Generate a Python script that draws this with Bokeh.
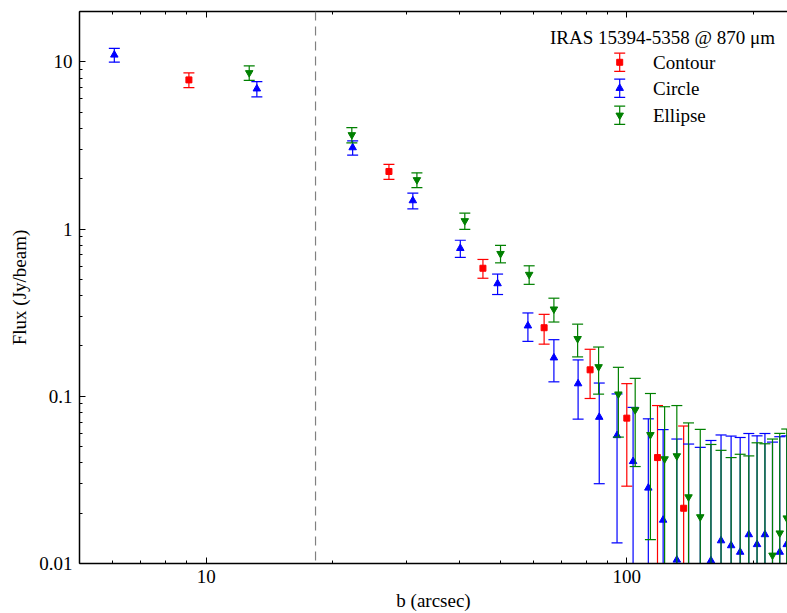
import numpy as np
from bokeh.plotting import figure
from bokeh.models import (LogAxis, FixedTicker, CustomJSTickFormatter, Span, Range1d,
                          LinearScale, Label)
from bokeh.embed import file_html
from bokeh.resources import INLINE

# ---------------- data ----------------
contour_b = [9.1, 27.2, 45.5, 63.6, 81.8, 100.0, 118.3, 136.5]
contour_flux = [7.8, 2.21, 0.583, 0.257, 0.144, 0.074, 0.043, 0.0214]
contour_err = [0.78, 0.23, 0.075, 0.052, 0.047, 0.045, 0.045, 0.045]

circle_b = [6.05, 13.2, 22.3, 31.0, 40.2, 49.3, 58.2, 67.1, 76.6, 86.0, 94.8, 103.5,
            112.5, 122.0, 131.5, 140.3, 149.5, 158.5, 167.5, 177.0, 186.0, 195.0,
            204.0, 213.0, 222.0, 231.0, 240.0]
circle_flux = [11.0, 6.9, 3.07, 1.48, 0.767, 0.472, 0.264, 0.170, 0.119, 0.075, 0.0583,
               0.0408, 0.0283, 0.0182, 0.0105, 0.0068, 0.0045, 0.0104, 0.0137, 0.0128,
               0.0117, 0.0149, 0.013, 0.0149, 0.0082, 0.0117, 0.013]
circle_err = [1.05, 0.72, 0.30, 0.16, 0.09, 0.066, 0.051, 0.048, 0.046, 0.045, 0.045,
              0.045, 0.045, 0.045, 0.045, 0.045, 0.045, 0.044, 0.045, 0.045, 0.045,
              0.045, 0.045, 0.045, 0.045, 0.0456, 0.045]

ellipse_b = [12.66, 22.2, 31.7, 41.2, 50.1, 58.6, 67.1, 76.4, 85.7, 95.5, 104.7, 113.8,
             123.0, 131.5, 140.2, 149.5, 158.5, 167.5, 177.0, 186.0, 195.0, 204.0,
             213.0, 222.0, 231.0, 240.0]
ellipse_flux = [8.6, 3.66, 1.97, 1.12, 0.713, 0.535, 0.332, 0.221, 0.150, 0.103, 0.083,
                0.0589, 0.0422, 0.044, 0.025, 0.019, 0.0065, 0.0025, -0.002, 0.0,
                -0.001, 0.0077, 0.007, 0.0112, 0.0152, 0.0187]
ellipse_err = [0.85, 0.38, 0.20, 0.125, 0.085, 0.068, 0.054, 0.049, 0.047, 0.046, 0.045,
               0.045, 0.0444, 0.044, 0.0443, 0.0444, 0.045, 0.045, 0.045, 0.045, 0.045,
               0.045, 0.045, 0.0443, 0.0448, 0.045]

beam_b = 18.2  # dashed vertical line position (arcsec)

x_major = [10, 100]
x_minor = [5, 6, 7, 8, 9, 20, 30, 40, 50, 60, 70, 80, 90, 200]
y_major = [0.01, 0.1, 1, 10]
y_minor = [0.02, 0.03, 0.04, 0.05, 0.06, 0.07, 0.08, 0.09,
           0.2, 0.3, 0.4, 0.5, 0.6, 0.7, 0.8, 0.9,
           2, 3, 4, 5, 6, 7, 8, 9, 20]

legend_title = "IRAS 15394-5358 @ 870 μm"
series = [
    ("Contour", contour_b, contour_flux, contour_err, "#ff0000", "square", 6),
    ("Circle", circle_b, circle_flux, circle_err, "#0000ff", "triangle", 7.5),
    ("Ellipse", ellipse_b, ellipse_flux, ellipse_err, "#008000", "inverted_triangle", 7.5),
]

FONT = "Liberation Serif"
FS = "19px"

p = figure(width=787, height=613, x_axis_type="log", y_axis_type="log",
           x_range=(5.0, 241.0), y_range=(0.01, 20.0),
           output_backend="svg", toolbar_location=None,
           min_border_left=79, min_border_right=0, min_border_top=11, min_border_bottom=48)
p.outline_line_color = None
p.grid.visible = False
p.background_fill_color = "white"
p.border_fill_color = "white"

xt = FixedTicker(ticks=x_major, minor_ticks=x_minor)
yt = FixedTicker(ticks=y_major, minor_ticks=y_minor)
fmt = CustomJSTickFormatter(code="return tick.toString()")

def style_axis(ax, ticker):
    ax.ticker = ticker
    ax.axis_line_color = "black"
    ax.axis_line_width = 1.5
    ax.major_tick_in = 6
    ax.major_tick_out = 0
    ax.minor_tick_in = 3
    ax.minor_tick_out = 0
    ax.major_tick_line_color = "black"
    ax.minor_tick_line_color = "black"
    ax.major_label_text_font = FONT
    ax.major_label_text_font_size = FS
    ax.major_label_text_color = "black"
    ax.axis_label_text_font = FONT
    ax.axis_label_text_font_size = FS
    ax.axis_label_text_font_style = "normal"
    ax.axis_label_text_color = "black"

style_axis(p.xaxis[0], xt)
style_axis(p.yaxis[0], yt)
p.xaxis[0].formatter = fmt
p.yaxis[0].formatter = fmt
p.xaxis[0].axis_label = "b (arcsec)"
p.yaxis[0].axis_label = "Flux (Jy/beam)"
p.xaxis[0].major_label_standoff = 6
p.yaxis[0].major_label_standoff = 7
p.xaxis[0].axis_label_standoff = 4
p.yaxis[0].axis_label_standoff = 6

top = LogAxis()
style_axis(top, xt)
top.formatter = CustomJSTickFormatter(code="return ''")
top.major_label_text_font_size = "0px"
top.major_label_standoff = 0
p.add_layout(top, "above")

p.add_layout(Span(location=beam_b, dimension="height", line_color="#808080",
                  line_width=1.2, line_dash="9 6"))

for name, b, f, e, col, mk, sz in series:
    b = np.array(b, dtype=float)
    f = np.array(f, dtype=float)
    e = np.array(e, dtype=float)
    hi = f + e
    lo = np.where(f - e > 0, f - e, 1e-5)
    fy = np.where(f > 0, f, np.nan)
    p.segment(x0=b, y0=lo, x1=b, y1=hi, line_color=col, line_width=1.2)
    p.scatter(x=b, y=hi, marker="dash", size=11, line_color=col, line_width=1.2)
    p.scatter(x=b, y=lo, marker="dash", size=11, line_color=col, line_width=1.2)
    p.scatter(x=b, y=fy, marker=mk, size=sz, fill_color=col, line_color=col)

# ---------------- manual legend (frame-fraction coordinates) ----------------
p.extra_x_ranges = {"leg": Range1d(0, 1)}
p.extra_y_ranges = {"leg": Range1d(0, 1)}
p.extra_x_scales = {"leg": LinearScale()}
p.extra_y_scales = {"leg": LinearScale()}

leg_x_glyph = 0.763
leg_x_text = 0.810
leg_rows = [0.908, 0.861, 0.812]
leg_half = 0.0165

p.add_layout(Label(x=0.8234, y=0.953, x_range_name="leg", y_range_name="leg",
                   text=legend_title, text_font=FONT, text_font_size=FS,
                   text_align="center", text_baseline="middle", text_color="black"))
for (name, b, f, e, col, mk, sz), yy in zip(series, leg_rows):
    p.segment(x0=[leg_x_glyph], y0=[yy - leg_half], x1=[leg_x_glyph], y1=[yy + leg_half],
              line_color=col, line_width=1.2, x_range_name="leg", y_range_name="leg")
    p.scatter(x=[leg_x_glyph, leg_x_glyph], y=[yy - leg_half, yy + leg_half], marker="dash",
              size=11, line_color=col, line_width=1.2, x_range_name="leg", y_range_name="leg")
    p.scatter(x=[leg_x_glyph], y=[yy], marker=mk, size=sz, fill_color=col, line_color=col,
              x_range_name="leg", y_range_name="leg")
    p.add_layout(Label(x=leg_x_text, y=yy, x_range_name="leg", y_range_name="leg",
                       text=name, text_font=FONT, text_font_size=FS,
                       text_align="left", text_baseline="middle", text_color="black"))

open("out.html", "w").write(file_html(p, INLINE))
